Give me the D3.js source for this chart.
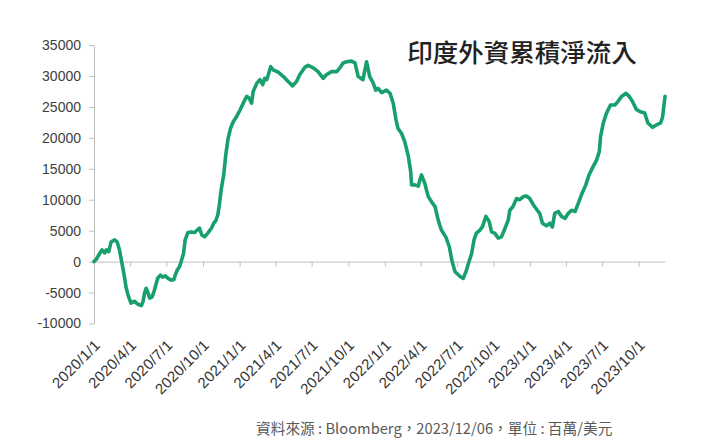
<!doctype html>
<html>
  <head>
    <meta charset="utf-8">
    <script src="https://cdnjs.cloudflare.com/ajax/libs/d3/7.8.5/d3.min.js"></script>
    <style>
      body { margin: 0; background: #fff; }
      svg { font-family: "Noto Sans", "Noto Sans CJK TC", sans-serif; }
    </style>
  </head>
  <body>
    <svg width="725" height="444"></svg>

    <script>
        // cumulative net foreign inflows into India (USD mn)
        var dates = [
            "2020-01-01","2020-01-07","2020-01-15","2020-01-21","2020-01-28","2020-02-01","2020-02-07","2020-02-13",
            "2020-02-22","2020-02-28","2020-03-05","2020-03-09","2020-03-16","2020-03-22","2020-03-28","2020-04-03",
            "2020-04-12","2020-04-20","2020-04-29","2020-05-03","2020-05-07","2020-05-11","2020-05-15","2020-05-20",
            "2020-05-26","2020-06-01","2020-06-09","2020-06-16","2020-06-22","2020-06-28","2020-07-05","2020-07-13",
            "2020-07-20","2020-07-23","2020-07-28","2020-08-03","2020-08-07","2020-08-13","2020-08-17","2020-08-24",
            "2020-09-01","2020-09-10","2020-09-18","2020-09-22","2020-09-28","2020-10-05","2020-10-13","2020-10-22",
            "2020-10-28","2020-11-02","2020-11-07","2020-11-11","2020-11-16","2020-11-22","2020-11-27","2020-12-03",
            "2020-12-09","2020-12-16","2020-12-24","2021-01-02","2021-01-10","2021-01-19","2021-01-25","2021-01-31",
            "2021-02-04","2021-02-13","2021-02-21","2021-02-28","2021-03-05","2021-03-10","2021-03-14","2021-03-20",
            "2021-03-26","2021-04-08","2021-04-21","2021-05-03","2021-05-14","2021-05-24","2021-06-01","2021-06-14",
            "2021-06-22","2021-07-05","2021-07-17","2021-07-30","2021-08-07","2021-08-20","2021-09-02","2021-09-10",
            "2021-09-18","2021-09-27","2021-10-09","2021-10-18","2021-10-26","2021-11-07","2021-11-16","2021-11-24",
            "2021-12-03","2021-12-09","2021-12-15","2021-12-24","2022-01-05","2022-01-14","2022-01-22","2022-01-29",
            "2022-02-03","2022-02-12","2022-02-20","2022-03-01","2022-03-07","2022-03-09","2022-03-17","2022-03-26",
            "2022-03-30","2022-04-03","2022-04-11","2022-04-20","2022-04-28","2022-05-07","2022-05-15","2022-05-23",
            "2022-06-03","2022-06-12","2022-06-18","2022-06-26","2022-07-09","2022-07-17","2022-07-24","2022-07-30",
            "2022-08-07","2022-08-13","2022-08-19","2022-08-28","2022-09-03","2022-09-12","2022-09-20","2022-09-26",
            "2022-10-04","2022-10-13","2022-10-21","2022-10-30","2022-11-07","2022-11-11","2022-11-19","2022-11-28",
            "2022-12-06","2022-12-15","2022-12-23","2022-12-31","2023-01-09","2023-01-19","2023-01-25","2023-02-01",
            "2023-02-11","2023-02-20","2023-02-26","2023-03-04","2023-03-13","2023-03-21","2023-03-30","2023-04-07",
            "2023-04-15","2023-04-24","2023-05-02","2023-05-10","2023-05-21","2023-05-29","2023-06-08","2023-06-17",
            "2023-06-24","2023-06-27","2023-07-04","2023-07-12","2023-07-22","2023-08-02","2023-08-10","2023-08-19",
            "2023-08-30","2023-09-07","2023-09-15","2023-09-25","2023-10-05","2023-10-16","2023-10-24","2023-11-05",
            "2023-11-15","2023-11-25","2023-11-30","2023-12-06"
        ];
        var values = [
            0, 400, 1300, 1900, 1400, 1900, 1600, 3200,
            3500, 3200, 1900, 500, -1900, -4300, -5700, -6700,
            -6400, -6900, -7100, -6500, -5100, -4300, -4900, -5900,
            -5700, -4600, -2700, -2200, -2500, -2300, -2700, -3000,
            -2900, -2200, -1400, -800, 0, 1300, 3500, 4700,
            4800, 4700, 5200, 5400, 4300, 4000, 4600, 5400,
            6200, 6600, 7500, 9200, 11800, 14000, 17200, 19900,
            21500, 22600, 23400, 24500, 25600, 26700, 26400, 25600,
            27500, 28800, 29400, 28600, 29600, 29400, 30200, 31500,
            31000, 30600, 29900, 29100, 28400, 29100, 30200, 31400,
            31700, 31300, 30700, 29600, 30200, 30700, 30700, 31300,
            32100, 32300, 32400, 32100, 29900, 29400, 32300, 29900,
            28800, 27700, 28000, 27300, 27700, 27200, 25600, 22900,
            21500, 20700, 19400, 17000, 14500, 12400, 12400, 12200,
            13200, 14000, 12700, 10500, 9700, 8900, 6700, 5100,
            4000, 2400, 300, -1600, -2400, -2700, -1600, -300,
            1300, 3500, 4600, 5100, 5600, 7300, 6500, 4800,
            4600, 3800, 4000, 5400, 6700, 8300, 8900, 10200,
            10000, 10500, 10600, 10200, 9200, 8300, 7800, 6200,
            5800, 6200, 5600, 7800, 8100, 7300, 7000, 7800,
            8300, 8100, 9400, 10800, 12400, 14000, 15300, 16400,
            17800, 20200, 22400, 24000, 25300, 25300, 25900, 26700,
            27200, 26700, 25900, 24600, 24200, 24000, 22400, 21700,
            22100, 22400, 23400, 26700
        ];
        var yTicks = [-10000, -5000, 0, 5000, 10000, 15000, 20000, 25000, 30000, 35000];
        var xTickLabels = [
            "2020/1/1","2020/4/1","2020/7/1","2020/10/1","2021/1/1","2021/4/1","2021/7/1","2021/10/1",
            "2022/1/1","2022/4/1","2022/7/1","2022/10/1","2023/1/1","2023/4/1","2023/7/1","2023/10/1"
        ];
        var title = "印度外資累積淨流入";
        var source = "資料來源 : Bloomberg，2023/12/06，單位 : 百萬/美元";

        var parse = d3.timeParse("%Y-%m-%d");
        var parseTick = d3.timeParse("%Y/%m/%d");
        var data = dates.map((d, i) => ({date: parse(d), value: values[i]}));
        var tickDates = xTickLabels.map(parseTick);

        var svg = d3.select("svg");
        var axisColor = "#bfbfbf";

        var x = d3.scaleTime()
            .domain([parse("2020-01-01"), parse("2023-12-06")])
            .range([94, 665]);
        var y = d3.scaleLinear()
            .domain([-10000, 35000])
            .range([323.5, 45]);

        // y axis, plain hyphen for negatives like the original
        var gy = svg.append("g")
            .attr("transform", "translate(94,0)")
            .call(d3.axisLeft(y).tickValues(yTicks).tickSize(5).tickSizeOuter(0)
                .tickPadding(8).tickFormat(d => String(d)));
        gy.selectAll("path, line").attr("stroke", axisColor);
        gy.selectAll("text").attr("fill", "#404040").style("font-size", "14px");

        // x axis sits on the zero line, ticks only
        var gx = svg.append("g")
            .attr("transform", "translate(0," + y(0) + ")")
            .call(d3.axisBottom(x).tickValues(tickDates).tickSize(5).tickSizeOuter(0).tickFormat(""));
        gx.selectAll("path, line").attr("stroke", axisColor);

        // date labels below the plot
        var gl = svg.append("g")
            .attr("transform", "translate(0," + y(-10000) + ")")
            .call(d3.axisBottom(x).tickValues(tickDates).tickSize(0)
                .tickFormat((d, i) => xTickLabels[i]));
        gl.select(".domain").remove();
        gl.selectAll("text")
            .attr("x", 0).attr("y", 0).attr("dy", "0.35em")
            .attr("text-anchor", "end")
            .attr("transform", "translate(3,19) rotate(-45)")
            .attr("fill", "#333")
            .style("font-size", "15px")
            .style("letter-spacing", "0.3px");

        var line = d3.line()
            .x(d => x(d.date))
            .y(d => y(d.value));

        svg.append("path")
            .datum(data)
            .attr("d", line)
            .attr("fill", "none")
            .attr("stroke", "#18a06c")
            .attr("stroke-width", 3.6)
            .attr("stroke-linejoin", "round")
            .attr("stroke-linecap", "round");

        svg.append("text")
            .attr("x", 522)
            .attr("y", 62)
            .attr("text-anchor", "middle")
            .style("font-family", "'Noto Sans CJK TC', sans-serif")
            .style("font-size", "25.5px")
            .style("font-weight", "500")
            .attr("fill", "#222")
            .text(title);

        svg.append("text")
            .attr("x", 256)
            .attr("y", 434)
            .style("font-family", "'Noto Sans CJK TC', sans-serif")
            .style("font-size", "14.7px")
            .attr("fill", "#595959")
            .text(source);
    </script>
  </body>
</html>
